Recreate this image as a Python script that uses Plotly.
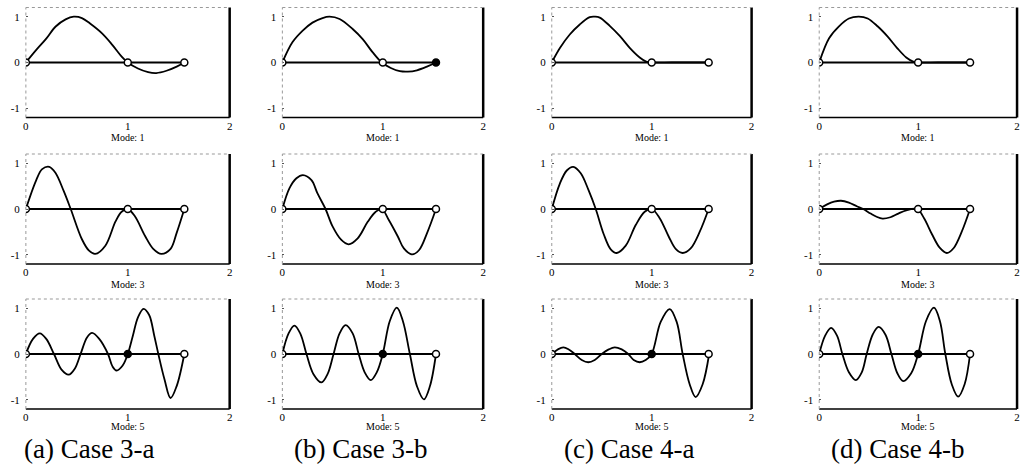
import plotly.graph_objects as go

# ---------------- data ----------------
captions = ["(a) Case 3-a", "(b) Case 3-b", "(c) Case 4-a", "(d) Case 4-b"]
mode_labels = ["Mode: 1", "Mode: 3", "Mode: 5"]
x_tick_vals = [0, 1, 2]
x_tick_text = ["0", "1", "2"]
y_tick_vals = [-1, 0, 1]
y_tick_text = ["-1", "0", "1"]
span_end = [1.555, 1.53, 1.57, 1.525]      # right support for each case
mid_support = 1.0

# Mode 1
a1_x = [0, 0.1, 0.2, 0.29, 0.39, 0.47, 0.55, 0.63, 0.75, 0.85, 0.94, 1.0, 1.1, 1.2, 1.28, 1.38, 1.48, 1.555]
a1_y = [0, 0.27, 0.52, 0.78, 0.94, 1.0, 0.97, 0.85, 0.63, 0.38, 0.13, 0, -0.13, -0.21, -0.23, -0.18, -0.09, 0]
b1_x = [0, 0.1, 0.2, 0.3, 0.4, 0.47, 0.57, 0.7, 0.8, 0.9, 0.99, 1.08, 1.17, 1.25, 1.34, 1.44, 1.53]
b1_y = [0, 0.44, 0.69, 0.87, 0.97, 1.0, 0.95, 0.73, 0.51, 0.22, 0, -0.12, -0.19, -0.2, -0.17, -0.09, 0]
c1_x = [0, 0.083, 0.18, 0.28, 0.38, 0.43, 0.48, 0.58, 0.68, 0.78, 0.88, 0.945, 1.0, 1.2, 1.4, 1.57]
c1_y = [0, 0.32, 0.61, 0.83, 0.99, 1.0, 0.98, 0.80, 0.58, 0.32, 0.11, 0.02, 0, 0, 0, 0]
d1_x = [0, 0.1, 0.2, 0.3, 0.4, 0.49, 0.59, 0.69, 0.79, 0.88, 0.95, 0.99, 1.2, 1.4, 1.525]
d1_y = [0, 0.53, 0.79, 0.96, 1.0, 0.96, 0.79, 0.57, 0.31, 0.11, 0.02, 0, 0, 0, 0]

# Mode 3
a2_x = [0, 0.1, 0.16, 0.23, 0.29, 0.37, 0.44, 0.55, 0.62, 0.68, 0.78, 0.88, 0.94, 1.0, 1.07, 1.17, 1.25, 1.33, 1.42, 1.48, 1.555]
a2_y = [0, 0.62, 0.87, 0.92, 0.79, 0.40, 0, -0.66, -0.91, -0.98, -0.80, -0.27, -0.06, 0, -0.16, -0.59, -0.87, -0.98, -0.87, -0.52, 0]
b2_x = [0, 0.07, 0.14, 0.205, 0.29, 0.35, 0.43, 0.50, 0.585, 0.66, 0.75, 0.85, 0.93, 0.99, 1.06, 1.15, 1.21, 1.29, 1.36, 1.44, 1.53]
b2_y = [0, 0.45, 0.67, 0.74, 0.63, 0.34, 0, -0.38, -0.67, -0.77, -0.64, -0.28, -0.06, 0, -0.24, -0.6, -0.86, -0.99, -0.9, -0.53, 0]
c2_x = [0, 0.08, 0.15, 0.215, 0.29, 0.37, 0.44, 0.52, 0.59, 0.65, 0.74, 0.84, 0.93, 1.0, 1.08, 1.17, 1.24, 1.31, 1.39, 1.48, 1.57]
c2_y = [0, 0.55, 0.84, 0.92, 0.78, 0.40, 0, -0.55, -0.88, -0.96, -0.80, -0.35, -0.06, 0, -0.2, -0.6, -0.87, -0.96, -0.86, -0.5, 0]
d2_x = [0, 0.08, 0.15, 0.22, 0.3, 0.38, 0.445, 0.52, 0.58, 0.64, 0.72, 0.8, 0.88, 0.99, 1.06, 1.14, 1.22, 1.29, 1.36, 1.44, 1.525]
d2_y = [0, 0.1, 0.16, 0.18, 0.14, 0.06, 0, -0.1, -0.17, -0.21, -0.18, -0.1, -0.03, 0, -0.2, -0.55, -0.85, -0.96, -0.85, -0.5, 0]

# Mode 5
a3_x = [0, 0.07, 0.137, 0.2, 0.276, 0.35, 0.42, 0.48, 0.537, 0.6, 0.65, 0.72, 0.806, 0.85, 0.89, 0.95, 1.0, 1.05, 1.1, 1.155, 1.21, 1.26, 1.30, 1.36, 1.42, 1.48, 1.555]
a3_y = [0, 0.33, 0.45, 0.33, 0, -0.34, -0.45, -0.32, 0, 0.36, 0.46, 0.33, 0, -0.27, -0.36, -0.25, 0, 0.4, 0.8, 0.985, 0.85, 0.4, 0, -0.55, -0.96, -0.7, 0]
b3_x = [0, 0.06, 0.12, 0.18, 0.24, 0.31, 0.39, 0.45, 0.51, 0.57, 0.63, 0.7, 0.76, 0.82, 0.88, 0.94, 1.0, 1.07, 1.14, 1.2, 1.27, 1.34, 1.41, 1.47, 1.53]
b3_y = [0, 0.44, 0.62, 0.44, 0, -0.44, -0.62, -0.44, 0, 0.45, 0.63, 0.45, 0, -0.4, -0.57, -0.4, 0, 0.72, 1.01, 0.72, 0, -0.7, -0.99, -0.7, 0]
c3_x = [0, 0.06, 0.116, 0.17, 0.23, 0.3, 0.365, 0.43, 0.5, 0.57, 0.63, 0.7, 0.765, 0.82, 0.88, 0.94, 1.0, 1.09, 1.18, 1.25, 1.31, 1.38, 1.44, 1.51, 1.575]
c3_y = [0, 0.1, 0.145, 0.1, 0, -0.13, -0.18, -0.13, 0, 0.1, 0.145, 0.1, 0, -0.13, -0.18, -0.13, 0, 0.7, 0.98, 0.7, 0, -0.66, -0.94, -0.66, 0]
d3_x = [0, 0.06, 0.12, 0.18, 0.234, 0.3, 0.37, 0.43, 0.48, 0.54, 0.60, 0.67, 0.73, 0.79, 0.85, 0.93, 1.0, 1.08, 1.16, 1.22, 1.275, 1.34, 1.405, 1.47, 1.525]
d3_y = [0, 0.4, 0.57, 0.4, 0, -0.4, -0.57, -0.4, 0, 0.42, 0.59, 0.42, 0, -0.42, -0.59, -0.42, 0, 0.72, 1.01, 0.72, 0, -0.66, -0.93, -0.66, 0]

curves = [
    [(a1_x, a1_y), (b1_x, b1_y), (c1_x, c1_y), (d1_x, d1_y)],
    [(a2_x, a2_y), (b2_x, b2_y), (c2_x, c2_y), (d2_x, d2_y)],
    [(a3_x, a3_y), (b3_x, b3_y), (c3_x, c3_y), (d3_x, d3_y)],
]

# ---------------- layout geometry (pixels) ----------------
W, H = 1028, 470
col_px = [(23, 228), (281, 483), (552, 753), (821, 1020)]
row_zero_px = [62.5, 209, 354]
half_px = 55
caption_left_offset = [-4, 10, 10, 10]
FONT = "Liberation Serif"

fig = go.Figure()
layout = dict(
    width=W, height=H, margin=dict(l=0, r=0, t=0, b=0),
    paper_bgcolor="white", plot_bgcolor="white", showlegend=False,
    font=dict(family=FONT, color="black"),
)
shapes = []
annotations = []

idx = 0
for r in range(3):
    for c in range(4):
        idx += 1
        sfx = "" if idx == 1 else str(idx)
        xa, ya = "x" + sfx, "y" + sfx
        x0p, x1p = col_px[c]
        z = row_zero_px[r]
        layout["xaxis" + sfx] = dict(
            domain=[x0p / W, x1p / W], range=[0, 2], anchor=ya,
            tickvals=x_tick_vals, ticktext=x_tick_text, showgrid=False,
            zeroline=False, showline=False, ticks="",
            tickfont=dict(family=FONT, size=11, color="black"),
        )
        layout["yaxis" + sfx] = dict(
            domain=[1 - (z + half_px) / H, 1 - (z - half_px) / H], range=[-1.2, 1.2],
            anchor=xa, tickvals=y_tick_vals, ticktext=y_tick_text, showgrid=False,
            zeroline=False, showline=False, ticks="inside", ticklen=2, tickcolor="#555",
            ticklabelstandoff=5,
            tickfont=dict(family=FONT, size=11, color="black"),
        )
        xs, ys = curves[r][c]
        end = span_end[c]
        fig.add_trace(go.Scatter(x=[0, end], y=[0, 0], mode="lines", xaxis=xa, yaxis=ya,
                                 line=dict(color="black", width=1.8)))
        fig.add_trace(go.Scatter(x=xs, y=ys, mode="lines", xaxis=xa, yaxis=ya,
                                 line=dict(color="black", width=1.8, shape="spline", smoothing=1.0)))
        fills = ["white", "black" if r == 2 else "white", "black" if (r == 0 and c == 1) else "white"]
        fig.add_trace(go.Scatter(x=[0, mid_support, end], y=[0, 0, 0], mode="markers",
                                 xaxis=xa, yaxis=ya,
                                 marker=dict(symbol="circle", size=7, color=fills,
                                             line=dict(color="black", width=1.5))))
        xd, yd = xa + " domain", ya + " domain"
        shapes += [
            dict(type="line", xref=xd, yref=yd, x0=1, x1=1, y0=0, y1=1,
                 line=dict(color="black", width=2.5)),
            dict(type="line", xref=xd, yref=yd, x0=0, x1=1, y0=0, y1=0,
                 line=dict(color="black", width=1.3)),
            dict(type="line", xref=xd, yref=yd, x0=0, x1=1, y0=1, y1=1,
                 line=dict(color="#999", width=1, dash="dot")),
            dict(type="line", xref=xd, yref=yd, x0=0, x1=0, y0=0, y1=1,
                 line=dict(color="#999", width=1, dash="dot")),
        ]
        annotations.append(dict(
            text=mode_labels[r], xref="paper", yref="paper",
            x=(x0p + x1p) / 2 / W, y=1 - (z + (72 if r == 2 else 75)) / H, showarrow=False,
            xanchor="center", yanchor="middle",
            font=dict(family=FONT, size=10, color="black")))

for c in range(4):
    x0p, x1p = col_px[c]
    annotations.append(dict(
        text=captions[c], xref="paper", yref="paper",
        x=(x0p + caption_left_offset[c]) / W, y=1 - 449 / H, showarrow=False,
        xanchor="left", yanchor="middle",
        font=dict(family=FONT, size=27, color="black")))

layout["shapes"] = shapes
layout["annotations"] = annotations
fig.update_layout(**layout)
fig.write_html("out.html", config={"displayModeBar": False},
               post_script="document.body.style.margin='0';document.body.style.overflow='hidden';")
